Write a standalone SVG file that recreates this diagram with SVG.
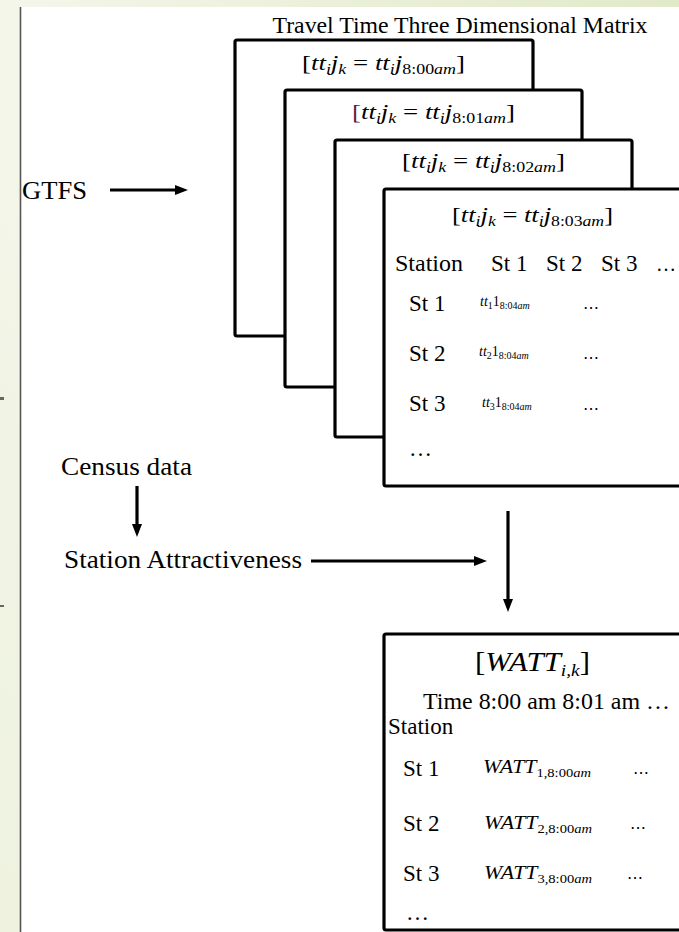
<svg xmlns="http://www.w3.org/2000/svg" width="679" height="932" viewBox="0 0 679 932" font-family="'Liberation Serif', serif">
<defs>
<linearGradient id="bg" x1="0" y1="1" x2="1" y2="0">
<stop offset="0" stop-color="#eef2df"/>
<stop offset="0.5" stop-color="#f4f6ea"/>
<stop offset="1" stop-color="#e2e9c9"/>
</linearGradient>
<marker id="ah" markerUnits="userSpaceOnUse" markerWidth="14" markerHeight="12" refX="1" refY="6" orient="auto">
<path d="M0,1 L13,6 L0,11 z" fill="#000"/>
</marker>
<style>
text{font-family:"Liberation Serif","Times New Roman",serif;fill:#000}
.box{fill:#fff;stroke:#000;stroke-width:3.2;stroke-linejoin:round}
.conn{stroke:#000;stroke-width:3.2;fill:none;marker-end:url(#ah)}
.m{font-size:21px}
.t{font-size:23px}
.s{font-size:24px}
.i{font-style:italic}
</style>
</defs>
<rect x="0" y="0" width="679" height="932" fill="url(#bg)"/>
<rect x="21" y="7" width="658" height="925" fill="#fff"/>
<line x1="20.5" y1="7" x2="20.5" y2="932" stroke="#555" stroke-width="1.6"/>
<rect x="0" y="397" width="4" height="3" fill="#666"/>
<rect x="0" y="605" width="4" height="2" fill="#666"/>

<g id="title"><text x="460" y="33" class="s" text-anchor="middle" textLength="375" lengthAdjust="spacingAndGlyphs">Travel Time Three Dimensional Matrix</text></g>

<g id="gtfs"><text x="22" y="199" font-size="26" textLength="65" lengthAdjust="spacingAndGlyphs">GTFS</text></g>
<g id="census"><text x="61" y="475" font-size="25" textLength="131" lengthAdjust="spacingAndGlyphs">Census data</text></g>
<g id="attract"><text x="64" y="568" font-size="25" textLength="238" lengthAdjust="spacingAndGlyphs">Station Attractiveness</text></g>

<g id="matrix1">
<rect class="box" x="235" y="40" width="298" height="296" rx="2"/>
<text x="302" y="70" class="m" textLength="163" lengthAdjust="spacingAndGlyphs">[<tspan class="i">tt</tspan><tspan class="i" font-size="14" dy="4">i</tspan><tspan class="i" dy="-4">j</tspan><tspan class="i" font-size="14" dy="4">k</tspan><tspan dy="-4"> = </tspan><tspan class="i">tt</tspan><tspan class="i" font-size="14" dy="4">i</tspan><tspan class="i" dy="-4">j</tspan><tspan font-size="14" dy="4">8:00</tspan><tspan class="i" font-size="14">am</tspan><tspan dy="-4">]</tspan></text>
</g>
<g id="matrix2">
<rect class="box" x="285" y="90" width="297" height="297" rx="2"/>
<text x="352" y="119" class="m" textLength="163" lengthAdjust="spacingAndGlyphs"><tspan fill="#602040">[</tspan><tspan class="i">tt</tspan><tspan class="i" font-size="14" dy="4">i</tspan><tspan class="i" dy="-4">j</tspan><tspan class="i" font-size="14" dy="4">k</tspan><tspan dy="-4"> = </tspan><tspan class="i">tt</tspan><tspan class="i" font-size="14" dy="4">i</tspan><tspan class="i" dy="-4">j</tspan><tspan font-size="14" dy="4">8:01</tspan><tspan class="i" font-size="14">am</tspan><tspan dy="-4">]</tspan></text>
</g>
<g id="matrix3">
<rect class="box" x="335" y="140" width="297" height="297" rx="2"/>
<text x="402" y="168" class="m" textLength="163" lengthAdjust="spacingAndGlyphs">[<tspan class="i">tt</tspan><tspan class="i" font-size="14" dy="4">i</tspan><tspan class="i" dy="-4">j</tspan><tspan class="i" font-size="14" dy="4">k</tspan><tspan dy="-4"> = </tspan><tspan class="i">tt</tspan><tspan class="i" font-size="14" dy="4">i</tspan><tspan class="i" dy="-4">j</tspan><tspan font-size="14" dy="4">8:02</tspan><tspan class="i" font-size="14">am</tspan><tspan dy="-4">]</tspan></text>
</g>
<g id="matrix4">
<rect class="box" x="384" y="189" width="300" height="297" rx="2"/>
<text x="452" y="222" class="m" textLength="161" lengthAdjust="spacingAndGlyphs">[<tspan class="i">tt</tspan><tspan class="i" font-size="14" dy="4">i</tspan><tspan class="i" dy="-4">j</tspan><tspan class="i" font-size="14" dy="4">k</tspan><tspan dy="-4"> = </tspan><tspan class="i">tt</tspan><tspan class="i" font-size="14" dy="4">i</tspan><tspan class="i" dy="-4">j</tspan><tspan font-size="14" dy="4">8:03</tspan><tspan class="i" font-size="14">am</tspan><tspan dy="-4">]</tspan></text>
<text x="395" y="271" class="t" textLength="68" lengthAdjust="spacingAndGlyphs">Station</text>
<text x="491" y="271" class="t">St 1</text>
<text x="546" y="271" class="t">St 2</text>
<text x="601" y="271" class="t">St 3</text>
<text x="656" y="271" font-size="20">…</text>
<text x="409" y="311" class="t">St 1</text>
<text x="409" y="361" class="t">St 2</text>
<text x="409" y="411" class="t">St 3</text>
<text x="409" y="456" class="t">…</text>
<text x="480" y="306" font-size="14"><tspan class="i">tt</tspan><tspan font-size="10" dy="3">1</tspan><tspan dy="-3">1</tspan><tspan font-size="10" dy="3">8:04</tspan><tspan class="i" font-size="10">am</tspan></text>
<text x="479" y="356" font-size="14"><tspan class="i">tt</tspan><tspan font-size="10" dy="3">2</tspan><tspan dy="-3">1</tspan><tspan font-size="10" dy="3">8:04</tspan><tspan class="i" font-size="10">am</tspan></text>
<text x="482" y="407" font-size="14"><tspan class="i">tt</tspan><tspan font-size="10" dy="3">3</tspan><tspan dy="-3">1</tspan><tspan font-size="10" dy="3">8:04</tspan><tspan class="i" font-size="10">am</tspan></text>
<text x="583" y="313" font-size="16">⋯</text>
<text x="583" y="363" font-size="16">⋯</text>
<text x="583" y="414" font-size="16">⋯</text>
</g>

<g id="watt">
<rect class="box" x="384" y="634" width="300" height="296" rx="2"/>
<text x="475" y="671" font-size="27" textLength="115" lengthAdjust="spacingAndGlyphs">[<tspan class="i">WATT</tspan><tspan class="i" font-size="17" dy="5">i,k</tspan><tspan dy="-5">]</tspan></text>
<text x="423" y="709" class="t" textLength="247" lengthAdjust="spacingAndGlyphs">Time  8:00 am 8:01 am …</text>
<text x="388" y="734" class="t">Station</text>
<text x="403" y="776" class="t">St 1</text>
<text x="403" y="831" class="t">St 2</text>
<text x="403" y="881" class="t">St 3</text>
<text x="406" y="920" class="t">…</text>
<text x="483" y="773" font-size="18" textLength="108" lengthAdjust="spacingAndGlyphs"><tspan class="i">WATT</tspan><tspan font-size="12" dy="4">1,8:00</tspan><tspan class="i" font-size="12">am</tspan></text>
<text x="484" y="829" font-size="18" textLength="108" lengthAdjust="spacingAndGlyphs"><tspan class="i">WATT</tspan><tspan font-size="12" dy="4">2,8:00</tspan><tspan class="i" font-size="12">am</tspan></text>
<text x="484" y="879" font-size="18" textLength="108" lengthAdjust="spacingAndGlyphs"><tspan class="i">WATT</tspan><tspan font-size="12" dy="4">3,8:00</tspan><tspan class="i" font-size="12">am</tspan></text>
<text x="633" y="778" font-size="16">⋯</text>
<text x="630" y="833" font-size="16">⋯</text>
<text x="627" y="883" font-size="16">⋯</text>
</g>

<g id="connectors">
<line class="conn" x1="110" y1="190" x2="176" y2="190"/>
<line class="conn" x1="137" y1="486" x2="137" y2="525"/>
<line class="conn" x1="311" y1="561" x2="475" y2="561"/>
<line class="conn" x1="508" y1="511" x2="508" y2="600"/>
</g>
</svg>
